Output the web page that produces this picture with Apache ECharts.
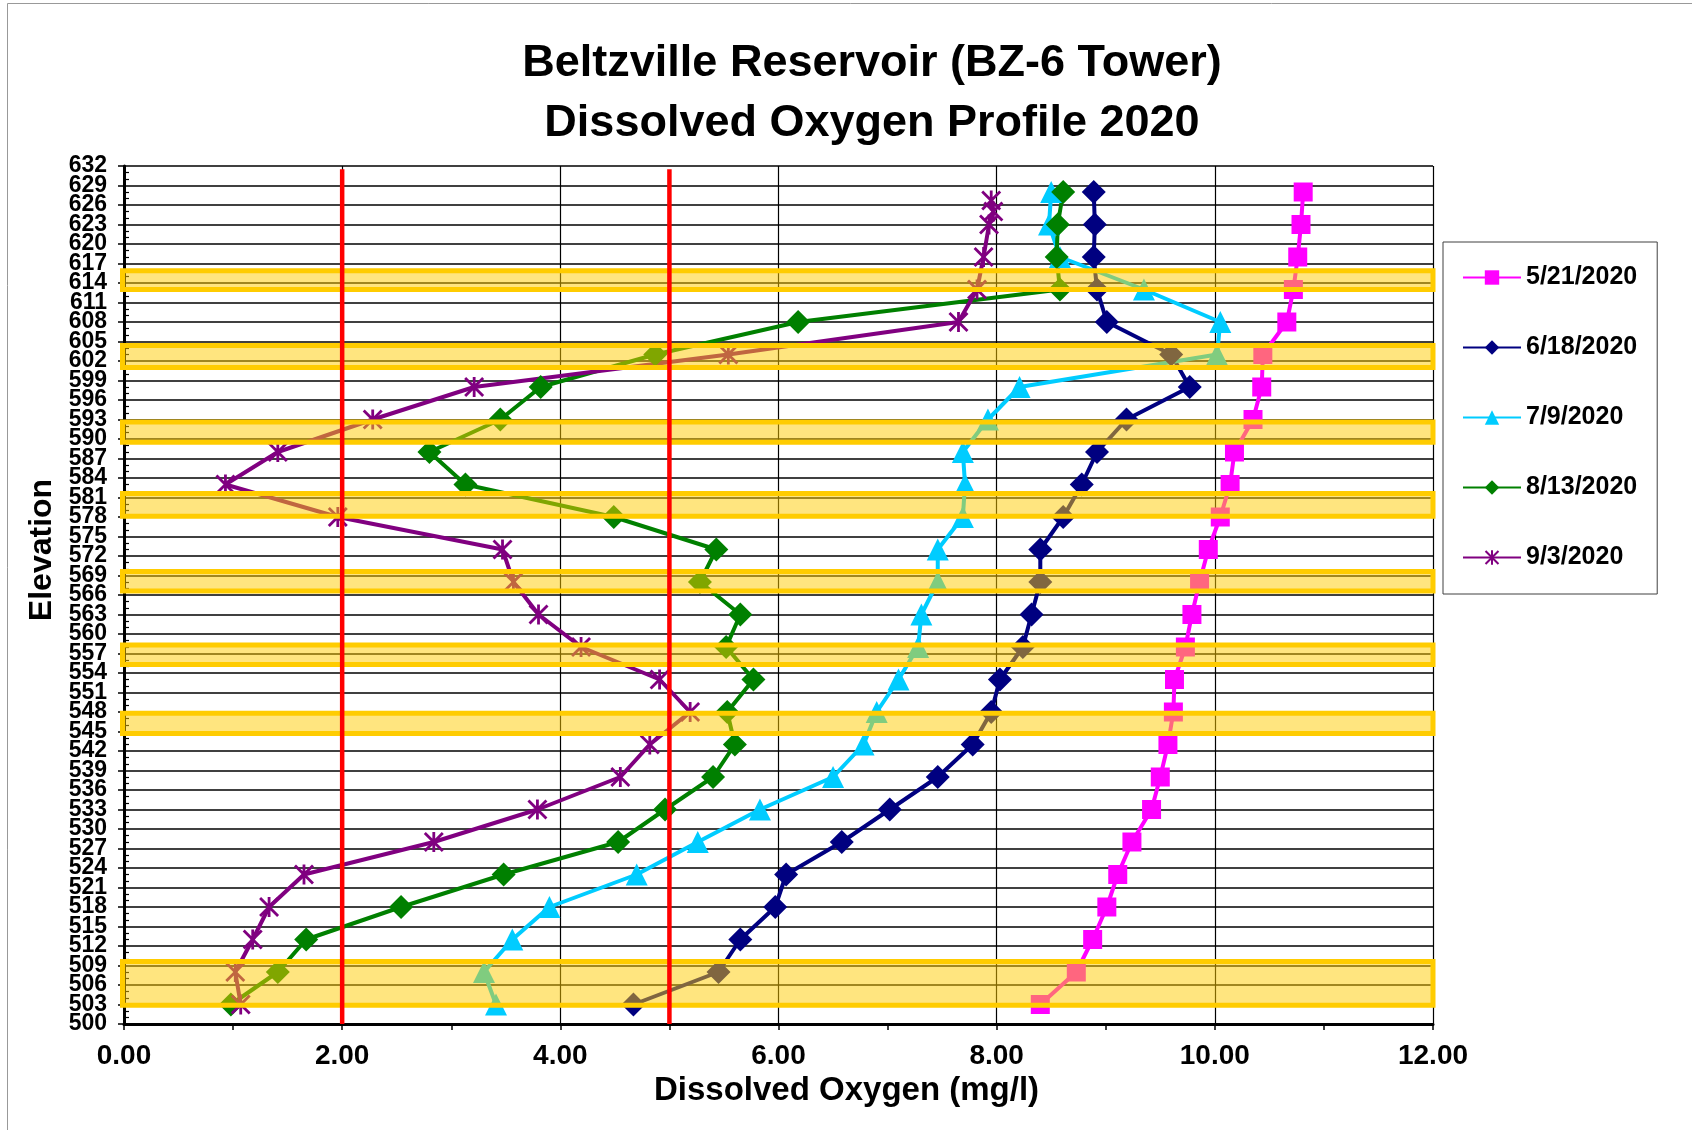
<!DOCTYPE html>
<html>
<head>
<meta charset="utf-8">
<script src="https://cdn.jsdelivr.net/npm/echarts@6/dist/echarts.min.js"></script>
<style>
html,body{margin:0;padding:0;background:#ffffff;}
#chart{width:1692px;height:1130px;}
</style>
</head>
<body>
<div id="chart"></div>
<script>
// ---- Data ----
const elevations = [628,623,618,613,608,603,598,593,588,583,578,573,568,563,558,553,548,543,538,533,528,523,518,513,508,503];
const do_0521 = [10.81,10.79,10.76,10.72,10.66,10.44,10.43,10.35,10.18,10.14,10.05,9.94,9.86,9.79,9.73,9.63,9.62,9.57,9.50,9.42,9.24,9.11,9.01,8.88,8.73,8.40];
const do_0618 = [8.89,8.90,8.89,8.92,9.01,9.60,9.77,9.19,8.92,8.78,8.61,8.40,8.40,8.32,8.24,8.03,7.95,7.78,7.46,7.02,6.58,6.07,5.97,5.65,5.45,4.67];
const do_0709 = [8.50,8.48,8.58,9.35,10.05,10.02,8.21,7.92,7.69,7.71,7.69,7.46,7.46,7.31,7.28,7.10,6.90,6.78,6.50,5.83,5.26,4.70,3.90,3.56,3.30,3.41];
const do_0813 = [8.61,8.56,8.55,8.58,6.18,4.87,3.82,3.45,2.80,3.13,4.49,5.43,5.28,5.65,5.52,5.77,5.53,5.60,5.40,4.96,4.53,3.48,2.54,1.67,1.41,0.98];
const elevations_0903 = [626.7,625,623,618,613,608,603,598,593,588,583,578,573,568,563,558,553,548,543,538,533,528,523,518,513,508,503];
const do_0903 = [7.95,7.97,7.93,7.88,7.82,7.65,5.54,3.21,2.28,1.41,0.93,1.96,3.47,3.57,3.80,4.19,4.91,5.19,4.82,4.55,3.79,2.84,1.65,1.33,1.18,1.02,1.07];
const seriesNames = ['5/21/2020','6/18/2020','7/9/2020','8/13/2020','9/3/2020'];
// threshold lines (mg/l) and their vertical span (elevation)
const thresholdValues = [2, 5];
const thresholdSpan = [500, 631.5];
// highlighted elevation bands [low, high]
const highlightBands = [[613.0,615.9],[601.0,604.4],[589.5,592.6],[578.1,581.6],[566.6,569.6],[555.3,558.3],[544.7,547.8],[502.9,509.6]];
const bandDoRange = [0, 12];
// axes
const xAxisRange = [0, 12, 2];
const yAxisRange = [500, 632, 3];

const FONT = '"Liberation Sans", Arial, sans-serif';
const zip = (xs, ys) => xs.map((v, i) => [v, ys[i]]);
const asterisk = 'path://M8.6,0L11.4,0L11.4,20L8.6,20Z M2,0L20,18L18,20L0,2Z M18,0L20,2L2,20L0,18Z';

const styles = [
  {color:'#FF00FF', symbol:'rect', size:19},
  {color:'#000080', symbol:'diamond', size:24},
  {color:'#00CCFF', symbol:'triangle', size:22},
  {color:'#008000', symbol:'diamond', size:24},
  {color:'#800080', symbol:asterisk, size:20}
];
const seriesData = [
  zip(do_0521, elevations),
  zip(do_0618, elevations),
  zip(do_0709, elevations),
  zip(do_0813, elevations),
  zip(do_0903, elevations_0903)
];

const series = seriesNames.map((n, i) => ({
  name: n,
  type: 'line',
  data: seriesData[i],
  symbol: styles[i].symbol,
  symbolSize: styles[i].size,
  showAllSymbol: true,
  color: styles[i].color,
  itemStyle: {color: styles[i].color},
  lineStyle: {color: styles[i].color, width: 4},
  z: 2,
  animation: false
}));

series.push({
  type: 'custom',
  name: 'bands',
  data: highlightBands.map(b => [bandDoRange[0], bandDoRange[1], b[0], b[1]]),
  encode: {x: [0, 1], y: [2, 3]},
  clip: false,
  silent: true,
  z: 5,
  renderItem: function (params, api) {
    const a = api.coord([api.value(0), api.value(3)]);
    const b = api.coord([api.value(1), api.value(2)]);
    return {
      type: 'rect',
      shape: {x: a[0] - 1.5, y: a[1], width: b[0] - a[0] + 1.5, height: b[1] - a[1]},
      style: {fill: 'rgba(255,204,0,0.5)', stroke: '#FFCC00', lineWidth: 5}
    };
  }
});

thresholdValues.forEach(v => {
  series.push({
    type: 'line',
    name: 'threshold ' + v,
    data: thresholdSpan.map(y => [v, y]),
    symbol: 'none',
    silent: true,
    z: 6,
    lineStyle: {color: '#FF0000', width: 4.5}
  });
});

const yLabelStyle = {fontFamily: FONT, fontSize: 23, fontWeight: 'bold', color: '#000', margin: 17};

const chart = echarts.init(document.getElementById('chart'), null, {renderer: 'canvas'});
chart.setOption({
  animation: false,
  backgroundColor: '#ffffff',
  textStyle: {fontFamily: FONT},
  graphic: [{
    type: 'rect', silent: true, z: 0,
    shape: {x: 7.5, y: 3.5, width: 1800, height: 1800},
    style: {fill: 'none', stroke: '#999999', lineWidth: 1}
  }],
  title: {
    text: 'Beltzville Reservoir (BZ-6 Tower)\nDissolved Oxygen Profile 2020',
    left: 872,
    top: 34,
    textAlign: 'center',
    padding: 0,
    textStyle: {fontFamily: FONT, fontSize: 45, fontWeight: 'bold', color: '#000', lineHeight: 60}
  },
  legend: {
    data: seriesNames,
    orient: 'vertical',
    left: 1443,
    top: 242,
    padding: [23, 20, 24, 19],
    itemGap: 45,
    itemWidth: 58,
    itemHeight: 18,
    borderColor: '#404040',
    borderWidth: 1,
    backgroundColor: '#fff',
    textStyle: {fontFamily: FONT, fontSize: 25, fontWeight: 'bold', color: '#000'}
  },
  grid: {left: 124, top: 166, width: 1309, height: 858, containLabel: false},
  xAxis: {
    type: 'value',
    min: xAxisRange[0], max: xAxisRange[1], interval: xAxisRange[2],
    axisLine: {show: true, lineStyle: {color: '#000', width: 3}},
    axisTick: {show: true, length: 6, lineStyle: {color: '#000', width: 1.5}},
    minorTick: {show: true, splitNumber: 2, length: 6, lineStyle: {color: '#000', width: 1.5}},
    splitLine: {show: true, lineStyle: {color: '#000', width: 1.2}},
    axisLabel: {formatter: v => v.toFixed(2), showMinLabel: true, showMaxLabel: true, fontFamily: FONT, fontSize: 28, fontWeight: 'bold', color: '#000', margin: 18},
    name: 'Dissolved Oxygen (mg/l)',
    nameLocation: 'middle',
    nameGap: 47,
    nameTextStyle: {fontFamily: FONT, fontSize: 33, fontWeight: 'bold', color: '#000', padding: [0, 0, 0, 136]}
  },
  yAxis: [{
    type: 'value',
    position: 'left',
    min: yAxisRange[0], max: yAxisRange[1], interval: yAxisRange[2],
    axisLine: {show: true, onZero: false, lineStyle: {color: '#000', width: 3}},
    axisTick: {show: true, length: 6, lineStyle: {color: '#000', width: 1.5}},
    minorTick: {show: true, splitNumber: 3, length: -5, lineStyle: {color: '#000', width: 1.2}},
    splitLine: {show: true, lineStyle: {color: '#000', width: 1.5}},
    axisLabel: Object.assign({showMinLabel: false, showMaxLabel: false}, yLabelStyle),
    name: 'Elevation',
    nameLocation: 'middle',
    nameGap: 62,
    nameTextStyle: {fontFamily: FONT, fontSize: 32, fontWeight: 'bold', color: '#000', padding: [0, 0, 0, 90]}
  }, {
    // companion axis carrying only the end labels (min / max elevation)
    type: 'value',
    position: 'left',
    offset: 0,
    min: yAxisRange[0], max: yAxisRange[1], interval: yAxisRange[2],
    axisLine: {show: false},
    axisTick: {show: false},
    minorTick: {show: false},
    splitLine: {show: false},
    axisLabel: Object.assign({
      showMinLabel: true, showMaxLabel: true,
      formatter: v => (v === yAxisRange[0] || v === yAxisRange[1]) ? String(v) : ''
    }, yLabelStyle)
  }],
  series: series
});
</script>
</body>
</html>
